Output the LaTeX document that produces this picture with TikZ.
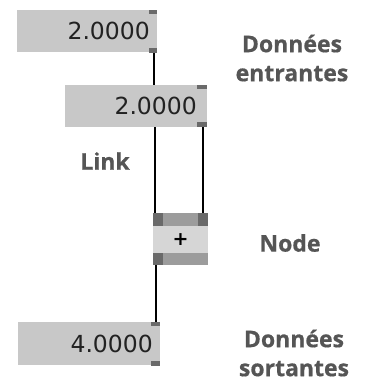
\documentclass[tikz,border=0pt]{standalone}
\usepackage{fontspec}
\newfontfamily\numfont{DejaVu Sans}
\newfontfamily\labfont{Open Sans}[BoldFont={Open Sans Bold},BoldFeatures={FakeBold=0.6}]
\definecolor{boxgray}{HTML}{C8C8C8}
\definecolor{portgray}{HTML}{6A6A6A}
\definecolor{bandgray}{HTML}{9C9C9C}
\definecolor{midgray}{HTML}{D6D6D6}
\definecolor{labgray}{HTML}{555555}
\definecolor{numcol}{HTML}{222222}
\begin{document}
\begin{tikzpicture}[x=1pt,y=-1pt,
  valbox/.style={draw=none,fill=boxgray,minimum width=140pt,minimum height=42pt,inner sep=0pt,anchor=north west},
  port/.style={draw=none,fill=portgray,inner sep=0pt,anchor=north west},
  band/.style={draw=none,fill=bandgray,inner sep=0pt,anchor=north west,minimum width=55pt},
  num/.style={font=\numfont\fontsize{23.5}{24}\selectfont,text=numcol,anchor=east,inner sep=0pt},
  lab/.style={font=\labfont\bfseries\fontsize{23}{29}\selectfont,text=labgray,align=center,inner sep=0pt},
  wire/.style={line width=2pt,black}]
\useasboundingbox (0,0) rectangle (370,381);
% value boxes
\node[valbox] (b1) at (17,10) {};
\node[valbox,minimum width=142pt] (b2) at (65,85) {};
\node[valbox,minimum width=142pt,minimum height=43pt] (b3) at (18,322) {};
% operator node
\node[draw=none,fill=midgray,inner sep=0pt,anchor=north west,minimum width=55pt,minimum height=52pt] (op) at (153,213) {};
\node[band,minimum height=13pt] (opt) at (153,213) {};
\node[band,minimum height=12pt] (opb) at (153,253) {};
\node[inner sep=0pt] (plus) at (180.5,239.5) {\numfont\bfseries\fontsize{19}{19}\selectfont +};
% ports
\node[port,minimum width=8pt,minimum height=4pt] (b1pt) at (149,10) {};
\node[port,minimum width=8pt,minimum height=5pt] (b1pb) at (149,48) {};
\node[port,minimum width=10pt,minimum height=4pt] (b2pt) at (197,85) {};
\node[port,minimum width=10pt,minimum height=5pt] (b2pb) at (197,122) {};
\node[port,minimum width=10pt,minimum height=13pt] (opil) at (153,213) {};
\node[port,minimum width=10pt,minimum height=13pt] (opir) at (198,213) {};
\node[port,minimum width=10pt,minimum height=12pt] (opo) at (153,253) {};
\node[port,minimum width=9pt,minimum height=4pt] (b3pt) at (151,322) {};
\node[port,minimum width=9pt,minimum height=5pt] (b3pb) at (151,361) {};
% numbers
\node[num] (n1) at (150,31) {2.0000};
\node[num] (n2) at (197,106) {2.0000};
\node[num] (n3) at (153,344) {4.0000};
% wires
\coordinate (w1a) at (154,53);
\coordinate (w1b) at (154,85);
\draw[wire] (w1a) -- (w1b);
\coordinate (w2a) at (155,127);
\coordinate (w2b) at (155,213);
\draw[wire] (w2a) -- (w2b);
\coordinate (w3a) at (203,127);
\coordinate (w3b) at (203,213);
\draw[wire] (w3a) -- (w3b);
\coordinate (w4a) at (156,265);
\coordinate (w4b) at (156,322);
\draw[wire] (w4a) -- (w4b);
% labels
\node[lab] (l1) at (292,58) {Données\\entrantes};
\node[lab] (l2) at (105,161) {Link};
\node[lab] (l3) at (290,243) {Node};
\node[lab] (l4) at (294,353) {Données\\sortantes};
\end{tikzpicture}
\end{document}
